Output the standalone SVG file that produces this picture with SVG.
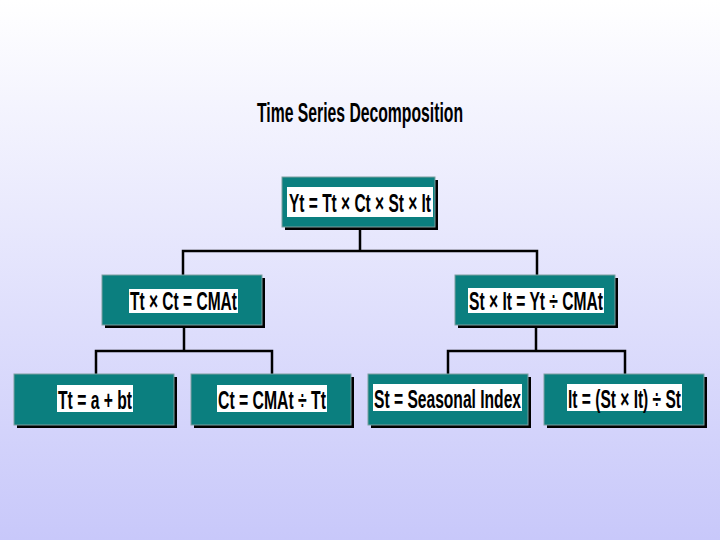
<svg xmlns="http://www.w3.org/2000/svg" width="720" height="540" viewBox="0 0 720 540">
<defs>
<linearGradient id="bg" x1="0" y1="0" x2="0" y2="1">
<stop offset="0" stop-color="#ffffff"/>
<stop offset="1" stop-color="#c8c8fa"/>
</linearGradient>
<style>
.shadow{fill:#000000}
.box{fill:#0b7f7f;stroke:#7f9f9f;stroke-width:1}
.lbl{fill:#ffffff}
.t{font-family:"Liberation Sans",Arial,sans-serif;font-weight:bold;font-size:26px;fill:#000000}
.title{font-family:"Liberation Sans",Arial,sans-serif;font-weight:bold;font-size:27px;fill:#000000}
.conn{fill:none;stroke:#000000;stroke-width:2.5}
</style>
</defs>
<rect x="0" y="0" width="720" height="540" fill="url(#bg)"/>
<text class="title" x="257" y="122" textLength="206" lengthAdjust="spacingAndGlyphs">Time Series Decomposition</text>
<g id="connectors">
<path class="conn" d="M360,229 V251 M183,275 V251 H537 V275"/>
<path class="conn" d="M184,328 V351 M96,374 V351 H272 V374"/>
<path class="conn" d="M536,328 V351 M448,374 V351 H625 V374"/>
</g>
<g id="n_top">
<rect class="shadow" x="285" y="180" width="153" height="50"/>
<rect class="box" x="282" y="177" width="153" height="50"/>
<rect class="lbl" x="287" y="187" width="146" height="30"/>
<text class="t" x="289" y="212" textLength="142" lengthAdjust="spacingAndGlyphs">Yt = Tt × Ct × St × It</text>
</g>
<g id="n_tc">
<rect class="shadow" x="105" y="278" width="160" height="50"/>
<rect class="box" x="102" y="275" width="160" height="50"/>
<rect class="lbl" x="129" y="289" width="109" height="24"/>
<text class="t" x="130" y="310" textLength="107" lengthAdjust="spacingAndGlyphs">Tt × Ct = CMAt</text>
</g>
<g id="n_si">
<rect class="shadow" x="458" y="278" width="160" height="50"/>
<rect class="box" x="455" y="275" width="160" height="50"/>
<rect class="lbl" x="468" y="288" width="136" height="25"/>
<text class="t" x="469" y="310" textLength="134" lengthAdjust="spacingAndGlyphs">St × It = Yt ÷ CMAt</text>
</g>
<g id="n_t">
<rect class="shadow" x="17" y="377" width="160" height="51"/>
<rect class="box" x="14" y="374" width="160" height="51"/>
<rect class="lbl" x="57" y="385" width="76" height="27"/>
<text class="t" x="58" y="409" textLength="74" lengthAdjust="spacingAndGlyphs">Tt = a + bt</text>
</g>
<g id="n_c">
<rect class="shadow" x="194" y="377" width="160" height="51"/>
<rect class="box" x="191" y="374" width="160" height="51"/>
<rect class="lbl" x="217" y="385" width="110" height="27"/>
<text class="t" x="218" y="409" textLength="108" lengthAdjust="spacingAndGlyphs">Ct = CMAt ÷ Tt</text>
</g>
<g id="n_s">
<rect class="shadow" x="371" y="377" width="160" height="51"/>
<rect class="box" x="368" y="374" width="160" height="51"/>
<rect class="lbl" x="373" y="384" width="149" height="27"/>
<text class="t" x="374" y="408" textLength="147" lengthAdjust="spacingAndGlyphs">St = Seasonal Index</text>
</g>
<g id="n_i">
<rect class="shadow" x="547" y="377" width="160" height="51"/>
<rect class="box" x="544" y="374" width="160" height="51"/>
<rect class="lbl" x="567" y="384" width="115" height="27"/>
<text class="t" x="568" y="408" textLength="113" lengthAdjust="spacingAndGlyphs">It = (St × It) ÷ St</text>
</g>
</svg>
